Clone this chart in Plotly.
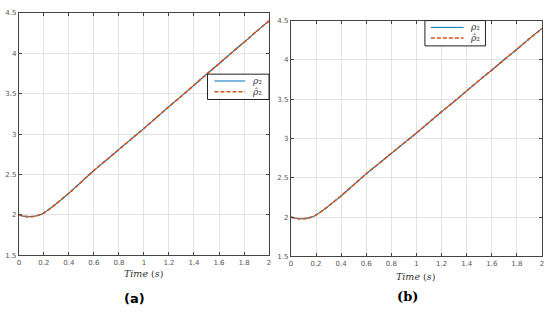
import plotly.graph_objects as go

# values (both panels show the same response)
time_s = [0, 0.05, 0.1, 0.15, 0.2, 0.25, 0.3, 0.35, 0.4, 0.5, 0.6, 0.7, 0.8,
          0.9, 1.0, 1.1, 1.2, 1.3, 1.4, 1.5, 1.6, 1.7, 1.8, 1.9, 2.0]
rho2 = [2.0, 1.982, 1.979, 1.993, 2.025, 2.08, 2.14, 2.205, 2.27, 2.41, 2.55,
        2.68, 2.81, 2.94, 3.07, 3.205, 3.34, 3.47, 3.605, 3.74, 3.87, 4.005, 4.135,
        4.27, 4.40]
rho2_hat = [2.0, 1.982, 1.979, 1.993, 2.025, 2.08, 2.14, 2.205, 2.27, 2.41, 2.55,
            2.68, 2.81, 2.94, 3.07, 3.205, 3.34, 3.47, 3.605, 3.74, 3.87, 4.005, 4.135,
            4.27, 4.40]
x_ticks = [0, 0.2, 0.4, 0.6, 0.8, 1, 1.2, 1.4, 1.6, 1.8, 2]
x_labels = ["0", "0.2", "0.4", "0.6", "0.8", "1", "1.2", "1.4", "1.6", "1.8", "2"]
y_ticks = [1.5, 2, 2.5, 3, 3.5, 4, 4.5]
y_labels = ["1.5", "2", "2.5", "3", "3.5", "4", "4.5"]
series_names = ["<i>ρ</i>₂", "<i>ρ̂</i>₂"]

BLUE = "#0072BD"
ORANGE = "#D95319"
W, H = 550, 313

fig = go.Figure()

for xa, ya in [("x", "y"), ("x2", "y2")]:
    fig.add_trace(go.Scatter(x=time_s, y=rho2, mode="lines", line_shape="spline",
                             xaxis=xa, yaxis=ya, name=series_names[0],
                             line=dict(color=BLUE, width=1.1)))
    fig.add_trace(go.Scatter(x=time_s, y=rho2_hat, mode="lines", line_shape="spline",
                             xaxis=xa, yaxis=ya, name=series_names[1],
                             line=dict(color=ORANGE, width=1.7, dash="4px,2px")))

ax_common = dict(showline=True, linecolor="#444444", linewidth=1, mirror="ticks",
                 ticks="inside", ticklen=3, tickcolor="#444444",
                 showgrid=True, gridcolor="#e3e3e3", gridwidth=1, zeroline=False,
                 tickfont=dict(family="DejaVu Sans", size=7, color="#555555"))


def px(x):
    return x / W


def py(y):
    return (H - y) / H


# MATLAB-style compact legend boxes (plotly's legend rows are too tall)
shapes = []
annotations = []
legend_boxes = [(207, 269, 72, 98, 214, 245, 250),
                (426, 487, 17, 43, 432, 465, 469)]
for x0, x1, y0, y1, lx0, lx1, tx in legend_boxes:
    shapes.append(dict(type="rect", xref="paper", yref="paper",
                       x0=px(x0), x1=px(x1), y0=py(y1), y1=py(y0),
                       fillcolor="white", line=dict(color="#222222", width=1),
                       layer="above"))
    row_y = [y0 + 7, y0 + 18]
    for k, (col, wd, dash) in enumerate([(BLUE, 1.0, "solid"),
                                         (ORANGE, 1.5, "4px,2px")]):
        shapes.append(dict(type="line", xref="paper", yref="paper",
                           x0=px(lx0), x1=px(lx1), y0=py(row_y[k]), y1=py(row_y[k]),
                           line=dict(color=col, width=wd, dash=dash), layer="above"))
        annotations.append(dict(text=series_names[k], x=px(tx), y=py(row_y[k]),
                                xref="paper", yref="paper", xanchor="left",
                                yanchor="middle", showarrow=False,
                                font=dict(family="DejaVu Serif", size=9,
                                          color="#333333")))

for text, x, y, fam, size in [
        ("<i>Time</i> (<i>s</i>)", 143, 277, "DejaVu Serif", 9.5),
        ("<i>Time</i> (<i>s</i>)", 417, 280, "DejaVu Serif", 9.5),
        ("<b>(a)</b>", 133, 302, "DejaVu Sans", 13),
        ("<b>(b)</b>", 408, 300, "DejaVu Serif", 13)]:
    annotations.append(dict(text=text, x=px(x), y=py(y), xref="paper", yref="paper",
                            xanchor="center", yanchor="middle", showarrow=False,
                            borderpad=0,
                            font=dict(family=fam, size=size,
                                      color="#333333" if size < 10 else "black")))

fig.update_layout(
    width=W, height=H,
    margin=dict(l=0, r=0, t=0, b=0),
    paper_bgcolor="white", plot_bgcolor="white",
    showlegend=False,
    xaxis=dict(domain=[px(17), px(269)], range=[0, 2], tickvals=x_ticks,
               ticktext=x_labels, anchor="y", **ax_common),
    yaxis=dict(domain=[py(258), py(9)], range=[1.5, 4.5], tickvals=y_ticks,
               ticktext=y_labels, anchor="x", **ax_common),
    xaxis2=dict(domain=[px(291), px(544)], range=[0, 2], tickvals=x_ticks,
                ticktext=x_labels, anchor="y2", **ax_common),
    yaxis2=dict(domain=[py(259), py(17)], range=[1.5, 4.5], tickvals=y_ticks,
                ticktext=y_labels, anchor="x2", **ax_common),
    shapes=shapes,
    annotations=annotations,
)

# the page body has a default 8px margin; drop it so the figure fills the window
fig.write_html("out.html", config={"displayModeBar": False},
               post_script="document.body.style.margin='0';")
